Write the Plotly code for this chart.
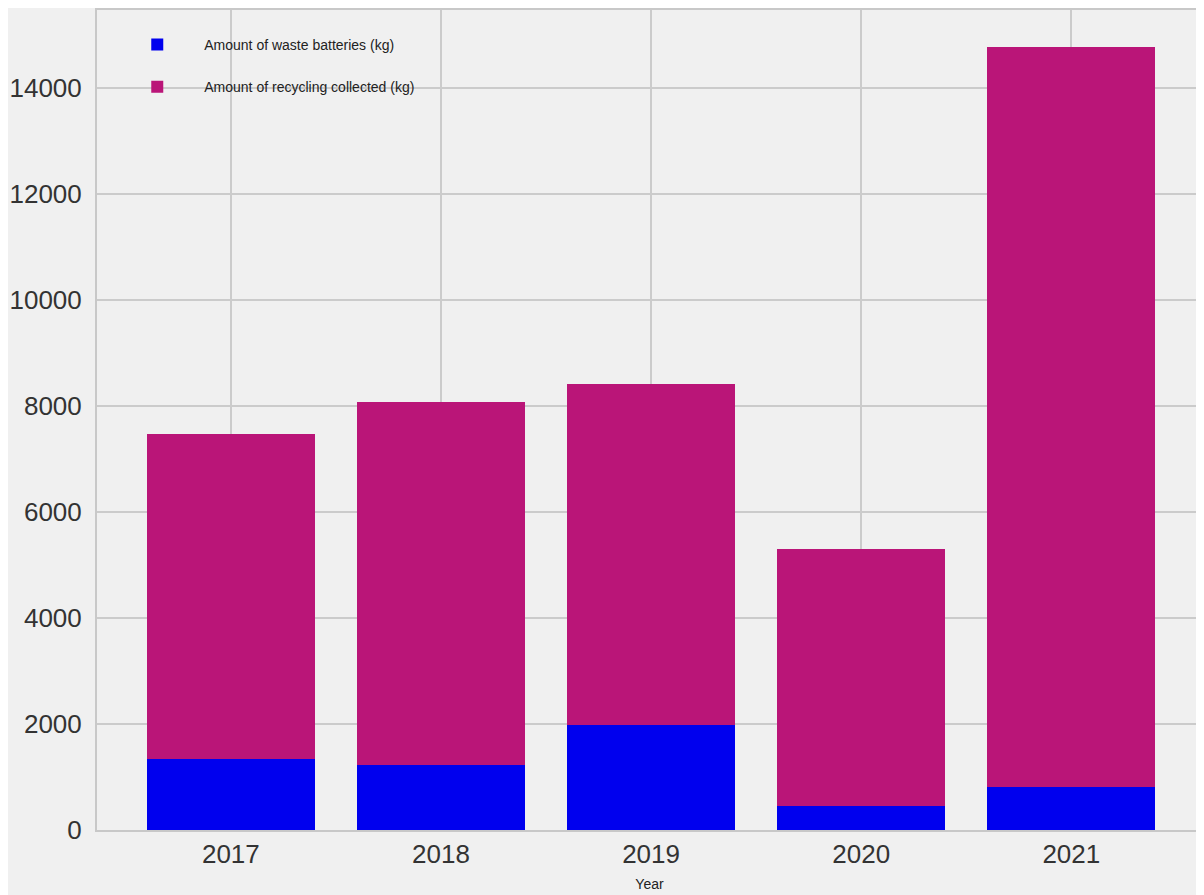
import plotly.graph_objects as go

years = ["2017", "2018", "2019", "2020", "2021"]
waste_batteries = [1340, 1225, 1975, 450, 810]
recycling_collected = [6140, 6855, 6430, 4860, 13960]
y_ticks = [0, 2000, 4000, 6000, 8000, 10000, 12000, 14000]
y_tick_labels = [str(v) for v in y_ticks]

fig = go.Figure()
fig.add_trace(go.Bar(
    x=years, y=waste_batteries, name="Amount of waste batteries (kg)",
    marker=dict(color="#0000EE", line=dict(width=0)), width=0.8,
    legendgroup="a",
))
fig.add_trace(go.Bar(
    x=years, y=recycling_collected, name="Amount of recycling collected (kg)",
    marker=dict(color="#BA1578", line=dict(width=0)), width=0.8,
    legendgroup="b",
))

fig.update_layout(
    width=1196, height=887,
    barmode="stack",
    paper_bgcolor="#F0F0F0", plot_bgcolor="#F0F0F0",
    margin=dict(l=89, r=0, t=1, b=65),
    font=dict(family="Liberation Sans, Arial, sans-serif", color="#333333"),
    showlegend=True,
    legend=dict(
        x=0.012, y=0.977, xanchor="left", yanchor="top",
        bgcolor="rgba(0,0,0,0)", font=dict(size=14, color="#222222"),
        traceorder="grouped", tracegroupgap=21, itemwidth=84,
    ),
    xaxis=dict(
        type="category", range=[-0.637, 4.622],
        showgrid=True, gridcolor="#CBCBCB", gridwidth=2,
        tickfont=dict(size=26, color="#333333"), ticks="",
        showline=True, linecolor="#C8C8C8", linewidth=2, mirror=True,
        title=dict(text="Year", font=dict(size=14, color="#222222"), standoff=11),
    ),
    yaxis=dict(
        range=[0, 15470], tickvals=y_ticks, ticktext=y_tick_labels,
        showgrid=True, gridcolor="#CBCBCB", gridwidth=2,
        tickfont=dict(size=26, color="#333333"), ticks="",
        ticklabelstandoff=8,
        showline=True, linecolor="#C8C8C8", linewidth=2, mirror=True,
        zeroline=False,
    ),
)

fig.write_html("out.html")
